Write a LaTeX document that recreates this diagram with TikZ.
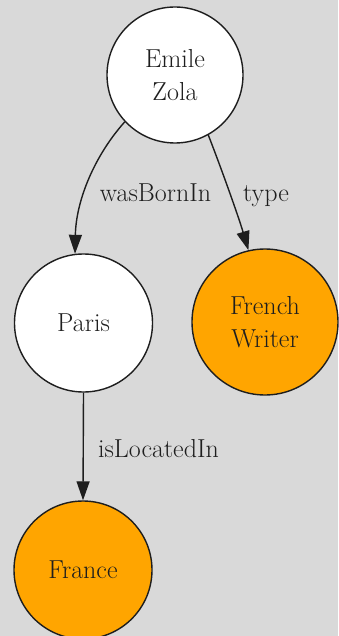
\documentclass[tikz,border=0pt]{standalone}
\usetikzlibrary{arrows.meta}
\definecolor{bggray}{HTML}{D9D9D9}
\definecolor{nodeorange}{HTML}{FFA500}
\definecolor{inkgray}{HTML}{1E1E1E}
\begin{document}
\begin{tikzpicture}[x=1pt,y=-1pt,
  every node/.style={font=\rmfamily\fontsize{26}{33}\selectfont, text=inkgray},
  entity/.style={circle, draw=inkgray, line width=1.4pt, fill=white,
    inner sep=0pt, align=center},
  category/.style={entity, fill=nodeorange},
  rel/.style={draw=inkgray, line width=1.4pt,
    -{Triangle[length=19pt,width=13pt]}},
  edgelabel/.style={anchor=base, inner sep=0pt}]
  % canvas
  \fill[bggray] (0,0) rectangle (338,636);
  \useasboundingbox (0,0) rectangle (338,636);

  % entities
  \node[entity, minimum size=136pt] (zola) at (175,75) {Emile\\Zola};
  \node[entity, minimum size=138pt] (paris) at (83.5,323) {Paris};
  \node[category, minimum size=146pt] (writer) at (265,322) {French\\Writer};
  \node[category, minimum size=138pt] (france) at (83,570) {France};

  % relations
  \draw[rel] (zola.223) .. controls (95,155) and (76,200) .. (paris.97);
  \draw[rel] (zola.-61) .. controls (220,165) and (238,215) .. (writer.103);
  \draw[rel] (paris.south) -- (france.north);

  % relation labels
  \node[edgelabel] (lblborn) at (155.5,202) {wasBornIn};
  \node[edgelabel] (lbltype) at (266,202) {type};
  \node[edgelabel] (lblloc) at (158.5,457) {isLocatedIn};
\end{tikzpicture}
\end{document}
